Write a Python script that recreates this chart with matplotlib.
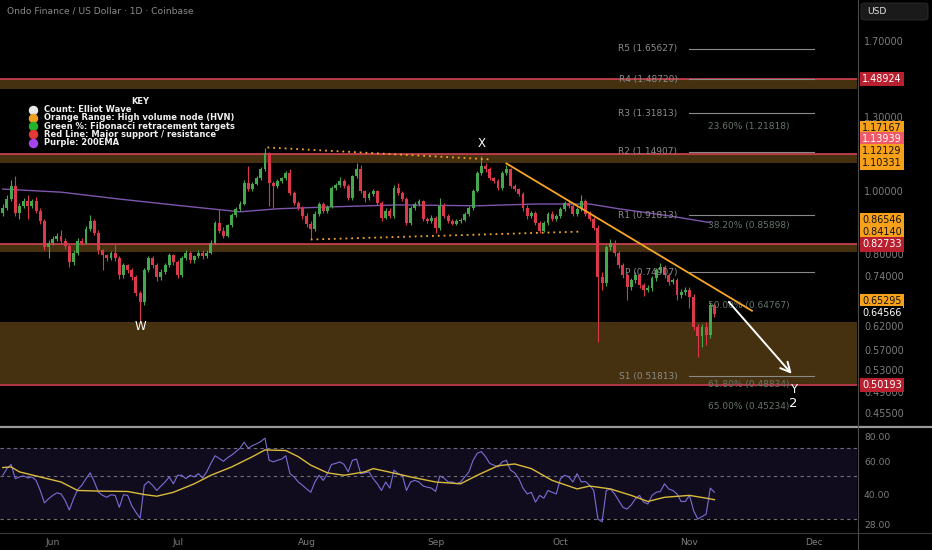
import numpy as np
import pandas as pd
import matplotlib
matplotlib.use("Agg")
import matplotlib.pyplot as plt
import matplotlib.dates as mdates
from matplotlib import transforms
from matplotlib.patches import FancyBboxPatch
from matplotlib.ticker import NullLocator, FixedLocator

# ---- data (ONDO/USD daily) ----
start_date = "2025-05-20"
first_open = 0.926
closes = [0.942, 0.972, 1.018, 0.926, 0.949, 0.966, 0.949, 0.966, 0.932, 0.900,
          0.819, 0.833, 0.845, 0.854, 0.839, 0.824, 0.777, 0.804, 0.839, 0.833,
          0.875, 0.900, 0.863, 0.810, 0.796, 0.788, 0.802, 0.788, 0.742, 0.769,
          0.755, 0.737, 0.697, 0.675, 0.755, 0.788, 0.769, 0.737, 0.750, 0.769,
          0.796, 0.777, 0.742, 0.788, 0.802, 0.782, 0.793, 0.804, 0.793, 0.804,
          0.833, 0.894, 0.869, 0.854, 0.885, 0.919, 0.939, 0.955, 1.028, 1.007,
          1.025, 1.047, 1.080, 1.143, 1.028, 1.018, 1.036, 1.047, 1.065, 0.993,
          0.959, 0.942, 0.916, 0.891, 0.875, 0.922, 0.955, 0.932, 0.945, 1.011,
          1.021, 1.036, 1.018, 0.976, 1.054, 1.080, 1.000, 0.976, 0.990, 1.000,
          0.959, 0.910, 0.932, 0.916, 1.011, 0.993, 0.972, 0.894, 0.942, 0.955,
          0.966, 0.906, 0.900, 0.910, 0.878, 0.949, 0.916, 0.900, 0.891, 0.900,
          0.903, 0.922, 0.942, 1.000, 1.065, 1.092, 1.080, 1.047, 1.036, 1.011,
          1.065, 1.080, 1.018, 1.007, 0.990, 0.942, 0.916, 0.926, 0.894, 0.869,
          0.894, 0.922, 0.906, 0.916, 0.939, 0.959, 0.949, 0.922, 0.939, 0.966,
          0.922, 0.906, 0.878, 0.737, 0.721, 0.819, 0.833, 0.802, 0.769, 0.742,
          0.711, 0.729, 0.742, 0.716, 0.704, 0.709, 0.734, 0.755, 0.763, 0.742,
          0.724, 0.729, 0.692, 0.699, 0.704, 0.687, 0.618, 0.597, 0.618, 0.601,
          0.668, 0.646]
highs = [0.955, 0.985, 1.040, 1.054, 0.960, 0.975, 0.985, 0.972, 0.980, 0.940,
         0.905, 0.840, 0.852, 0.862, 0.870, 0.846, 0.830, 0.812, 0.846, 0.848,
         0.882, 0.918, 0.905, 0.870, 0.815, 0.800, 0.808, 0.830, 0.795, 0.775,
         0.772, 0.760, 0.742, 0.702, 0.760, 0.795, 0.795, 0.775, 0.758, 0.775,
         0.802, 0.800, 0.782, 0.795, 0.810, 0.808, 0.798, 0.812, 0.810, 0.810,
         0.840, 0.900, 0.939, 0.880, 0.890, 0.925, 0.945, 0.965, 1.040, 1.092,
         1.032, 1.055, 1.090, 1.163, 1.150, 1.035, 1.042, 1.052, 1.072, 1.080,
         1.000, 0.965, 0.948, 0.925, 0.898, 0.930, 0.962, 0.962, 0.952, 1.018,
         1.028, 1.050, 1.042, 1.025, 1.060, 1.105, 1.095, 1.005, 0.998, 1.008,
         1.005, 0.965, 0.940, 0.940, 1.020, 1.030, 1.000, 0.978, 0.948, 0.962,
         0.972, 0.970, 0.912, 0.918, 0.915, 0.975, 0.958, 0.922, 0.906, 0.906,
         0.910, 0.928, 0.948, 1.006, 1.072, 1.131, 1.105, 1.088, 1.052, 1.042,
         1.072, 1.095, 1.085, 1.025, 1.012, 0.995, 0.950, 0.932, 0.932, 0.900,
         0.900, 0.928, 0.930, 0.922, 0.945, 0.966, 0.966, 0.955, 0.946, 0.985,
         0.972, 0.930, 0.912, 0.885, 0.750, 0.826, 0.845, 0.840, 0.808, 0.775,
         0.748, 0.735, 0.750, 0.748, 0.722, 0.716, 0.740, 0.762, 0.775, 0.770,
         0.748, 0.735, 0.735, 0.706, 0.712, 0.712, 0.694, 0.625, 0.625, 0.628,
         0.675, 0.672]
lows = [0.915, 0.935, 0.965, 0.915, 0.905, 0.940, 0.906, 0.940, 0.925, 0.890,
        0.812, 0.788, 0.825, 0.838, 0.830, 0.815, 0.765, 0.770, 0.798, 0.826,
        0.828, 0.868, 0.855, 0.800, 0.755, 0.780, 0.782, 0.780, 0.732, 0.735,
        0.748, 0.730, 0.690, 0.629, 0.668, 0.750, 0.762, 0.728, 0.730, 0.745,
        0.763, 0.770, 0.735, 0.738, 0.783, 0.775, 0.775, 0.788, 0.785, 0.788,
        0.800, 0.828, 0.862, 0.848, 0.850, 0.880, 0.912, 0.930, 0.950, 1.000,
        1.000, 1.020, 1.040, 1.075, 0.949, 0.942, 1.010, 1.030, 1.040, 0.985,
        0.950, 0.935, 0.905, 0.880, 0.845, 0.868, 0.915, 0.925, 0.925, 0.940,
        1.005, 1.015, 1.010, 0.968, 0.970, 1.048, 0.993, 0.962, 0.970, 0.984,
        0.952, 0.900, 0.905, 0.908, 0.910, 0.985, 0.965, 0.885, 0.888, 0.935,
        0.948, 0.898, 0.892, 0.894, 0.862, 0.872, 0.908, 0.892, 0.885, 0.886,
        0.894, 0.898, 0.916, 0.936, 0.995, 1.058, 1.070, 1.040, 1.028, 1.004,
        1.005, 1.060, 1.010, 1.000, 0.982, 0.930, 0.905, 0.910, 0.886, 0.862,
        0.864, 0.888, 0.900, 0.900, 0.910, 0.932, 0.942, 0.915, 0.916, 0.933,
        0.915, 0.898, 0.870, 0.585, 0.704, 0.715, 0.810, 0.795, 0.762, 0.735,
        0.680, 0.705, 0.722, 0.708, 0.690, 0.698, 0.702, 0.728, 0.748, 0.735,
        0.716, 0.718, 0.680, 0.684, 0.692, 0.660, 0.610, 0.555, 0.575, 0.580,
        0.594, 0.640]

rsi_values = [50.6, 54.8, 57.6, 48.6, 49.6, 50.2, 49.0, 49.6, 47.6, 42.2,
              36.4, 38.2, 39.8, 41.0, 40.5, 37.4, 33.4, 38.2, 42.7, 44.9,
              48.6, 52.1, 46.7, 41.3, 39.8, 38.9, 40.1, 39.8, 34.5, 40.1,
              39.8, 35.2, 32.5, 30.3, 44.9, 47.0, 44.9, 42.2, 44.5, 46.7,
              49.6, 45.7, 50.6, 50.6, 48.6, 50.6, 49.6, 51.6, 49.0, 52.7,
              58.3, 63.9, 61.9, 59.8, 62.4, 64.4, 67.1, 69.9, 75.1, 69.9,
              72.2, 73.7, 75.7, 78.9, 60.5, 59.4, 60.5, 61.4, 63.9, 51.6,
              49.6, 46.7, 44.9, 43.0, 41.3, 46.7, 50.6, 47.6, 51.6, 57.6,
              58.3, 59.4, 57.6, 52.7, 60.5, 61.4, 51.6, 52.1, 52.7, 48.6,
              45.7, 42.2, 46.7, 43.4, 53.8, 51.6, 50.6, 42.2, 46.7, 47.6,
              46.7, 44.5, 43.9, 43.4, 41.7, 50.2, 49.0, 46.7, 46.7, 45.7,
              46.7, 49.6, 52.7, 60.5, 65.8, 67.1, 63.2, 58.3, 57.1, 55.9,
              59.4, 60.5, 53.8, 52.1, 48.6, 43.4, 40.5, 41.3, 36.7, 39.8,
              38.5, 42.2, 41.3, 40.5, 48.6, 50.6, 49.6, 46.7, 51.6, 46.7,
              47.0, 44.9, 42.2, 30.0, 29.0, 42.2, 43.0, 40.5, 37.4, 34.5,
              33.8, 35.5, 38.2, 39.8, 36.7, 35.9, 39.8, 41.3, 41.7, 45.7,
              43.0, 42.2, 40.5, 37.0, 37.0, 39.8, 33.1, 30.0, 30.9, 31.8,
              43.4, 41.3]

# RSI moving average, read at these candle numbers
rsi_ma_idx = [0, 2, 4, 9, 14, 18, 23, 30, 34, 37, 41, 46, 50, 55, 60, 63, 68, 71,
              74, 78, 82, 87, 89, 92, 98, 104, 110, 114, 119, 123, 127, 132, 138,
              141, 146, 151, 155, 159, 165, 169, 171]
rsi_ma_val = [55.5, 55.9, 52.7, 49.6, 46.7, 42.2, 41.9, 41.7, 40.2, 39.4, 41.3,
              45.7, 50.6, 55.9, 63.2, 68.5, 68.0, 63.2, 57.1, 52.1, 50.6, 52.7,
              54.8, 53.1, 49.6, 46.7, 45.7, 50.6, 56.7, 57.9, 54.8, 47.6, 43.0,
              44.5, 43.0, 39.8, 37.0, 38.9, 39.8, 38.5, 37.8]

# 200 EMA, read at these candle numbers
ema_idx = [0, 14, 28, 43, 57, 66, 78, 95, 114, 128, 141, 148, 160, 170]
ema_val = [1.007, 0.996, 0.972, 0.949, 0.929, 0.939, 0.945, 0.952, 0.949, 0.955,
           0.955, 0.939, 0.916, 0.894]

# horizontal levels
red_lines = [1.48924, 1.13939, 0.82733, 0.50193]
hvn_zones = [(1.436, 1.48924), (1.104, 1.13939), (0.805, 0.82733), (0.505, 0.629)]
pivot_names = ["R5", "R4", "R3", "R2", "R1", "P", "S1"]
pivot_values = [1.65627, 1.48720, 1.31813, 1.14907, 0.91813, 0.74907, 0.51813]
fib_names = ["23.60%", "38.20%", "50.00%", "61.80%", "65.00%"]
fib_values = [1.21818, 0.85898, 0.64767, 0.48834, 0.45234]

# trend lines (date, price)
trend_line = [("2025-09-18", 1.103), ("2025-11-16", 0.654)]
triangle_top = [("2025-07-22 14:00", 1.167), ("2025-09-14", 1.119)]
triangle_bottom = [("2025-08-02", 0.842), ("2025-10-06", 0.866)]
arrow_path = [("2025-11-10", 0.680), ("2025-11-26", 0.519)]

price_ticks = [1.70, 1.30, 1.00, 0.80, 0.74, 0.62, 0.57, 0.53, 0.49, 0.455]
rsi_ticks = [80, 60, 40, 28]
months = ["2025-06-01", "2025-07-01", "2025-08-01", "2025-09-01", "2025-10-01",
          "2025-11-01", "2025-12-01"]
month_names = ["Jun", "Jul", "Aug", "Sep", "Oct", "Nov", "Dec"]

# right axis price tags: value, background, text colour, pixel lift (stacking)
tag_values = [1.48924, 1.17167, 1.13939, 1.12129, 1.10331, 0.86546, 0.84140,
              0.82733, 0.65295, 0.64566, 0.50193]
tag_bg = ["#b8202f", "#f7a11a", "#ef5a6a", "#f7a11a", "#f7a11a", "#f7a11a",
          "#f7a11a", "#b8202f", "#f7a11a", "#000000", "#b8202f"]
tag_fg = ["white", "#111111", "white", "#111111", "#111111", "#111111",
          "#111111", "white", "#111111", "white", "white"]
tag_lift = [0, 18, 15, 8, 0, 12, 8, 0, 10, 1, 0]

# ---- styling ----
BG = "#000000"
GREEN = "#45a84c"
RED = "#d9394a"
GRID_TXT = "#7d7d7d"
W, H = 932, 550
PLOT_W = 857

plt.rcParams["font.family"] = ["DejaVu Sans"]

fig = plt.figure(figsize=(W / 100, H / 100), dpi=100, facecolor=BG)


def fx(px):
    return px / W


def fy(py):
    return 1 - py / H


ax = fig.add_axes([0, fy(426), fx(PLOT_W), 426 / H], facecolor=BG)
rx = fig.add_axes([0, fy(532), fx(PLOT_W), (532 - 428) / H], facecolor=BG, sharex=ax)

dates = pd.date_range(start_date, periods=len(closes), freq="D")
xs = mdates.date2num(dates)
opens = [first_open] + closes[:-1]

o = np.array(opens)
c = np.array(closes)
up = c >= o
colors = np.where(up, GREEN, RED)
body_lo = np.minimum(o, c)
body_hi = np.maximum(o, c)
body_h = np.maximum(body_hi - body_lo, 0.002)

ax.set_yscale("log")
ax.set_ylim(0.4346, 1.969)
x_left = mdates.date2num(pd.Timestamp("2025-05-19 08:00"))
x_right = mdates.date2num(pd.Timestamp("2025-12-11 06:00"))
ax.set_xlim(x_left, x_right)

# HVN zones + red support/resistance
for lo_v, hi_v in hvn_zones:
    ax.axhspan(lo_v, hi_v, color="#45300f", lw=0, zorder=1)
for v in red_lines:
    ax.axhline(v, color="#e2465a", lw=1.1, zorder=2)

# candles
ax.vlines(xs, lows, highs, colors=colors, lw=0.8, zorder=4)
ax.bar(xs, body_h, bottom=body_lo, width=0.7, color=colors, lw=0, zorder=5)

# 200 EMA
ax.plot(xs[ema_idx], ema_val, color="#8c5fc0", lw=1.0, alpha=0.9, zorder=3)

# pivot levels for November
p_start = mdates.date2num(pd.Timestamp("2025-11-01"))
p_end = mdates.date2num(pd.Timestamp("2025-12-01"))
piv_tr = transforms.offset_copy(ax.transData, fig=fig, x=-12, y=0, units="dots")
for name, v in zip(pivot_names, pivot_values):
    ax.plot([p_start, p_end], [v, v], color="#8a8a8a", lw=0.8, zorder=3)
    ax.text(p_start, v, f"{name} ({v:.5f})", color="#8c8c8c", fontsize=6.5,
            ha="right", va="center", zorder=6, transform=piv_tr)

# fibonacci labels
fib_x = mdates.date2num(pd.Timestamp("2025-11-05 12:00"))
for name, v in zip(fib_names, fib_values):
    ax.text(fib_x, v * 1.014, f"{name} ({v:.5f})", color="#66766a", fontsize=6.5,
            ha="left", va="bottom", zorder=6)

# dotted triangle + falling trend line
for seg in (triangle_top, triangle_bottom):
    sx = [mdates.date2num(pd.Timestamp(d)) for d, _ in seg]
    sy = [p for _, p in seg]
    ax.plot(sx, sy, color="#f2a52a", lw=1.3, ls=(0, (1, 2.2)), zorder=6)
tx = [mdates.date2num(pd.Timestamp(d)) for d, _ in trend_line]
ty = [p for _, p in trend_line]
ax.plot(tx, ty, color="#f5a623", lw=1.3, zorder=6)

ax.annotate("", xy=(mdates.date2num(pd.Timestamp(arrow_path[1][0])), arrow_path[1][1]),
            xytext=(mdates.date2num(pd.Timestamp(arrow_path[0][0])), arrow_path[0][1]),
            arrowprops=dict(arrowstyle="->,head_length=0.7,head_width=0.35",
                            color="white", lw=1.4), zorder=7)

# wave labels
ax.text(xs[33], 0.6195, "W", color="white", fontsize=8.5, ha="center", va="center", zorder=7)
ax.text(xs[115], 1.1855, "X", color="white", fontsize=8.5, ha="center", va="center", zorder=7)
y_x = mdates.date2num(pd.Timestamp("2025-11-26"))
ax.text(y_x, 0.4955, "Y", color="white", fontsize=8.5, ha="center", va="center", zorder=7)
ax.text(y_x, 0.4715, "2", color="white", fontsize=9.5, ha="center", va="center", zorder=7)

# right price axis
ax.yaxis.tick_right()
ax.yaxis.set_major_locator(FixedLocator(price_ticks))
ax.yaxis.set_minor_locator(NullLocator())
ax.set_yticklabels([f"{t:.5f}" for t in price_ticks])
ax.tick_params(axis="y", length=0, pad=5, labelsize=6.9, labelcolor=GRID_TXT)
ax.tick_params(axis="x", bottom=False, labelbottom=False)
for s in ax.spines.values():
    s.set_visible(False)

blend = transforms.blended_transform_factory(ax.transAxes, ax.transData)
for v, bg, fg, lift in zip(tag_values, tag_bg, tag_fg, tag_lift):
    tr = transforms.offset_copy(blend, fig=fig, x=5, y=lift, units="dots")
    ax.text(1.0, v, f"{v:.5f}", transform=tr, color=fg,
            fontsize=6.9, ha="left", va="center", zorder=10, clip_on=False,
            bbox=dict(boxstyle="square,pad=0.22", fc=bg, ec="none"))

# RSI panel
rx.set_yscale("log")
rx.set_ylim(25.7, 89)
rx.axhspan(30, 70, color="#110c1d", lw=0, zorder=0)
for lvl in (70, 50, 30):
    rx.axhline(lvl, color="#6f6f78", lw=0.8, ls=(0, (3, 3)), zorder=1)
rx.plot(xs, rsi_values, color="#7a6ed6", lw=0.8, zorder=3)
rx.plot(xs[rsi_ma_idx], rsi_ma_val, color="#d9bb3c", lw=1.0, zorder=4)
rx.yaxis.tick_right()
rx.yaxis.set_major_locator(FixedLocator(rsi_ticks))
rx.yaxis.set_minor_locator(NullLocator())
rx.set_yticklabels([f"{t:.2f}" for t in rsi_ticks])
rx.tick_params(axis="y", length=0, pad=5, labelsize=6.6, labelcolor=GRID_TXT)
rx.set_xticks([mdates.date2num(pd.Timestamp(m)) for m in months])
rx.set_xticklabels(month_names)
rx.tick_params(axis="x", length=0, pad=4, labelsize=6.6, labelcolor=GRID_TXT)
for s in rx.spines.values():
    s.set_visible(False)
ax.set_xlim(x_left, x_right)

# frame lines
fig.add_artist(plt.Line2D([0, 1], [fy(427), fy(427)], color="#9a9a9a", lw=1.6))
fig.add_artist(plt.Line2D([0, 1], [fy(532.5), fy(532.5)], color="#3a3a3a", lw=0.8))
fig.add_artist(plt.Line2D([fx(857.5), fx(857.5)], [0, 1], color="#4a4a4a", lw=0.8))

# title
fig.text(fx(7), fy(11), "Ondo Finance / US Dollar · 1D · Coinbase", color="#8a8a8a",
         fontsize=6.6, ha="left", va="center")

# USD box
fig.add_artist(FancyBboxPatch((fx(861), fy(20)), fx(67), 17 / H,
                              boxstyle="round,pad=0,rounding_size=0.004",
                              transform=fig.transFigure, fc="#1a1a1a", ec="#2b2b2b", lw=0.6))
fig.text(fx(867), fy(11.5), "USD", color="#e0e0e0", fontsize=6.6, ha="left", va="center")

# key
key_rows = ["Count: Elliot Wave", "Orange Range: High volume node (HVN)",
            "Green %: Fibonacci retracement targets", "Red Line: Major support / resistance",
            "Purple: 200EMA"]
key_colors = ["#e8e8e8", "#f0a020", "#22b52c", "#e53935", "#a445f0"]
fig.text(fx(140), fy(101), "KEY", color="#f0f0f0", fontsize=6.0, fontweight="bold",
         ha="center", va="center")
for k, (row, col) in enumerate(zip(key_rows, key_colors)):
    yy = 109.5 + k * 8.3
    fig.add_artist(plt.Line2D([fx(33)], [fy(yy)], marker="o", ms=5.8, color=col, lw=0))
    fig.text(fx(44), fy(yy), row, color="#f0f0f0", fontsize=6.0, fontweight="bold",
             ha="left", va="center")

fig.savefig("out.png", dpi=100, facecolor=BG)
